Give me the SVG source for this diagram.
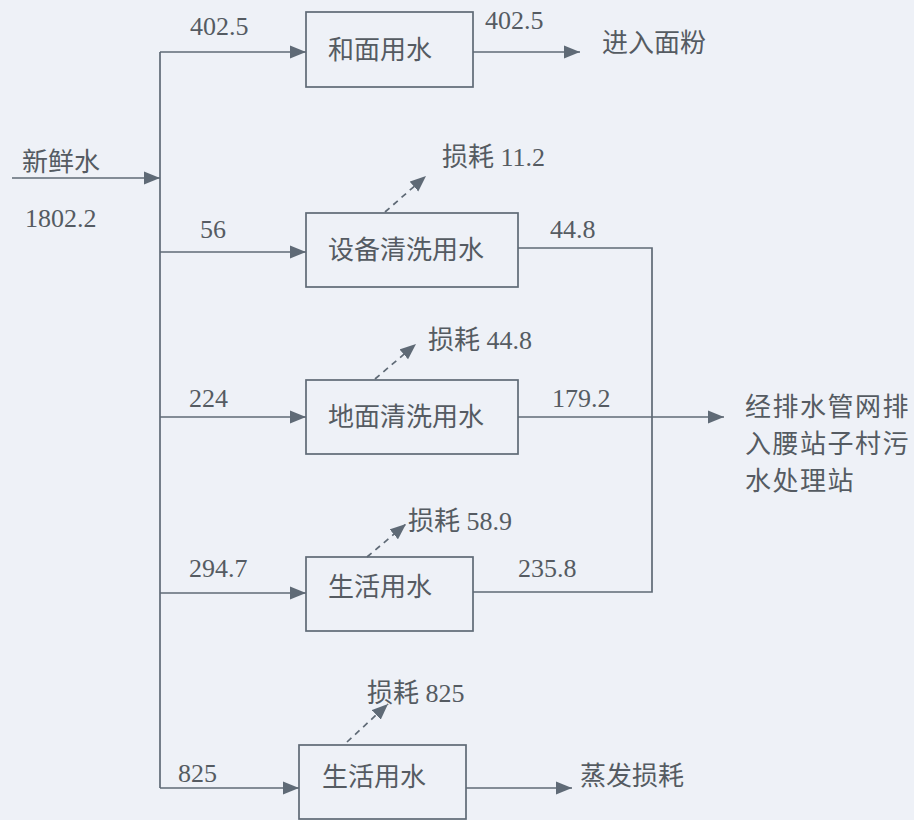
<svg xmlns="http://www.w3.org/2000/svg" width="914" height="820" viewBox="0 0 914 820">
<style>
.bg{fill:#eef1f7}
.box{fill:none;stroke:#5f6a76;stroke-width:1.7}
.ln{fill:none;stroke:#5f6a76;stroke-width:1.7}
.dash{fill:none;stroke:#5f6a76;stroke-width:1.7;stroke-dasharray:6 5}
text{font-size:26px;fill:#555b62}
</style>
<defs>
<marker id="ah" markerUnits="userSpaceOnUse" markerWidth="17" markerHeight="14" refX="16" refY="7" orient="auto">
<path d="M0,0.5 L16,7 L0,13.5 z" fill="#5f6a76"/>
</marker>
</defs>
<rect class="bg" x="0" y="0" width="914" height="820"/>
<g id="connectors">
<path class="ln" d="M12,178 H160" marker-end="url(#ah)"/>
<path class="ln" d="M160,52 V788"/>
<path class="ln" d="M160,52 H306" marker-end="url(#ah)"/>
<path class="ln" d="M160,252 H306" marker-end="url(#ah)"/>
<path class="ln" d="M160,417 H306" marker-end="url(#ah)"/>
<path class="ln" d="M160,593 H306" marker-end="url(#ah)"/>
<path class="ln" d="M160,788 H299" marker-end="url(#ah)"/>
<path class="ln" d="M473,52 H580" marker-end="url(#ah)"/>
<path class="ln" d="M466,788 H572" marker-end="url(#ah)"/>
<path class="ln" d="M518,248 H652 V592 H473"/>
<path class="ln" d="M518,417 H724" marker-end="url(#ah)"/>
<path class="dash" d="M385,212 L426,176" marker-end="url(#ah)"/>
<path class="dash" d="M375,379 L416,344" marker-end="url(#ah)"/>
<path class="dash" d="M367,557 L406,524" marker-end="url(#ah)"/>
<path class="dash" d="M347,742 L388,704" marker-end="url(#ah)"/>
<g font-family="'Liberation Serif', 'Times New Roman', serif">
<text x="190" y="35">402.5</text>
<text x="485" y="29">402.5</text>
<text x="200" y="238">56</text>
<text x="550" y="238">44.8</text>
<text x="189" y="407">224</text>
<text x="552" y="407">179.2</text>
<text x="189" y="577">294.7</text>
<text x="518" y="577">235.8</text>
<text x="178" y="782">825</text>
</g>
</g>
<g font-family="'Liberation Serif', 'Noto Sans CJK SC', serif">
<g id="fresh"><text x="22" y="171" font-size="25">新鲜水</text><text x="25" y="227">1802.2</text></g>
<g id="hemian"><rect class="box" x="306" y="12" width="167" height="75"/><text x="328" y="59" font-size="25">和面用水</text></g>
<g id="flour"><text x="602" y="52" font-size="25">进入面粉</text></g>
<g id="shebei"><rect class="box" x="306" y="213" width="212" height="74"/><text x="328" y="259" font-size="25">设备清洗用水</text></g>
<g id="loss1"><text x="442" y="166">损耗 11.2</text></g>
<g id="dimian"><rect class="box" x="306" y="380" width="212" height="74"/><text x="328" y="426" font-size="25">地面清洗用水</text></g>
<g id="loss2"><text x="428" y="349">损耗 44.8</text></g>
<g id="shenghuo1"><rect class="box" x="306" y="557" width="167" height="74"/><text x="328" y="596" font-size="25">生活用水</text></g>
<g id="loss3"><text x="408" y="530">损耗 58.9</text></g>
<g id="shenghuo2"><rect class="box" x="299" y="745" width="167" height="74"/><text x="322" y="786" font-size="25">生活用水</text></g>
<g id="loss4"><text x="367" y="702">损耗 825</text></g>
<g id="evap"><text x="580" y="785" font-size="25">蒸发损耗</text></g>
<g id="sewage"><text x="745" y="416" font-size="25" letter-spacing="1.5">经排水管网排</text><text x="745" y="453" font-size="25" letter-spacing="1.5">入腰站子村污</text><text x="745" y="490" font-size="25" letter-spacing="1.5">水处理站</text></g>
</g>
</svg>
